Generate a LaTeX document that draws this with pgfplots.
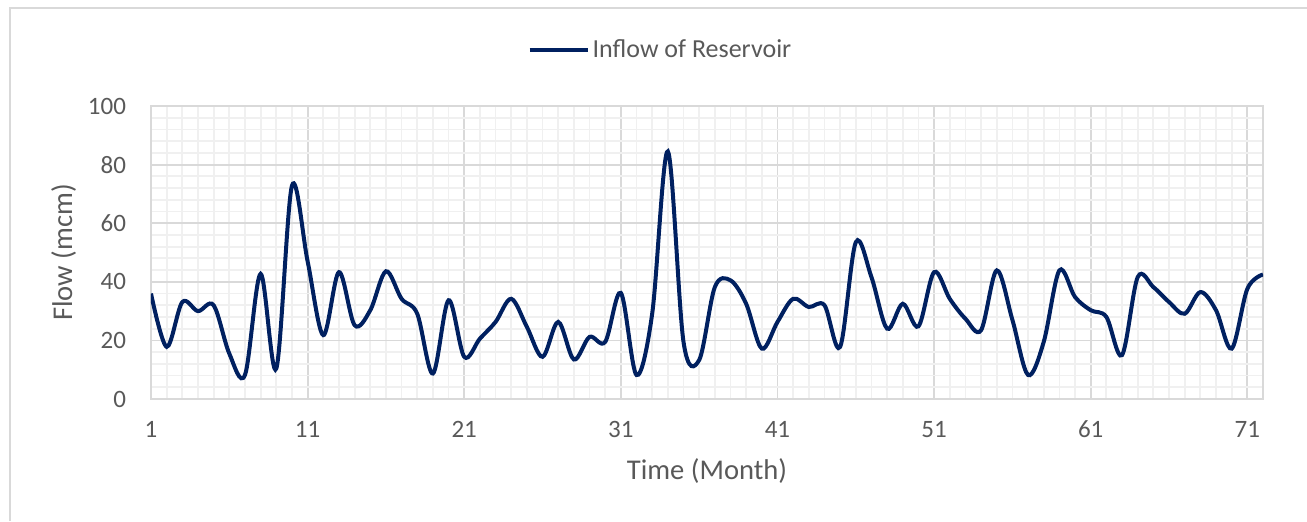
\documentclass[border=0pt]{standalone}
\usepackage{pgfplots}
\pgfplotsset{compat=1.18}
\usepackage{fontspec}
\setmainfont{Carlito}
\definecolor{navy}{HTML}{002060}
\definecolor{txt}{HTML}{595959}
\definecolor{majg}{HTML}{D9D9D9}
\definecolor{ming}{HTML}{F0F0F0}
\begin{document}
\begin{tikzpicture}
\useasboundingbox (0pt,0pt) rectangle (653.5pt,-260.5pt);
\draw[majg, line width=1pt] (4.75pt,-260.5pt) -- (4.75pt,-3.75pt) -- (653.5pt,-3.75pt);
\begin{axis}[
  at={(75.5pt,-199.5pt)}, anchor=south west,
  scale only axis, width=556pt, height=146.5pt,
  xmin=1, xmax=72, ymin=0, ymax=100,
  xtick={1,11,...,71}, minor xtick={1,...,72},
  ytick={0,20,...,100}, minor y tick num=4,
  grid=both,
  major grid style={majg, line width=0.9pt},
  minor grid style={ming, line width=0.9pt},
  axis line style={majg, line width=1pt},
  major tick length=0pt, minor tick length=0pt,
  tick label style={font=\fontsize{12.5}{14}\selectfont, text=txt},
  /pgf/number format/assume math mode=true,
  yticklabel style={xshift=-9pt},
  xticklabel style={yshift=-7.5pt},
  xlabel={Time (Month)}, ylabel={Flow (mcm)},
  label style={font=\fontsize{14.3}{16}\selectfont, text=txt},
  xlabel style={yshift=-3.5pt},
  ylabel style={yshift=-1pt},
  legend style={draw=none, fill=none, at={(0.4586,1.191)}, anchor=center,
    font=\fontsize{13}{15}\selectfont, text=txt, inner sep=0pt,
    nodes={inner xsep=1.5pt}},
  legend image code/.code={\draw[navy, line width=2pt] (0pt,0pt) -- (29pt,0pt);},
  legend cell align=left,
]
\addplot[navy, line width=2pt, smooth, tension=0.55] coordinates {
(1,36.0) (2,17.8) (3,33.1) (4,30.0) (5,32.0) (6,15.5) (7,8.2) (8,42.7) (9,10.4) (10,72.8)
(11,47.0) (12,21.8) (13,43.3) (14,25.2) (15,30.3) (16,43.6) (17,34.2) (18,29.1) (19,8.7) (20,33.7)
(21,14.4) (22,20.6) (23,26.3) (24,34.2) (25,24.6) (26,14.4) (27,26.3) (28,13.5) (29,21.2) (30,19.5)
(31,36.2) (32,8.2) (33,29.1) (34,84.5) (35,19.5) (36,13.3) (37,38.2) (38,40.5) (39,32.5) (40,17.2)
(41,26.3) (42,34.2) (43,31.4) (44,32.0) (45,17.8) (46,53.5) (47,41.6) (48,24.0) (49,32.5) (50,24.8)
(51,43.3) (52,34.2) (53,27.4) (54,23.5) (55,43.9) (56,27.0) (57,8.2) (58,19.5) (59,43.9) (60,34.8)
(61,30.3) (62,28.0) (63,15.0) (64,41.6) (65,38.2) (66,33.1) (67,29.1) (68,36.5) (69,30.3) (70,17.2)
(71,37.6) (72,42.5)
};
\addlegendentry{Inflow of Reservoir}
\end{axis}
\end{tikzpicture}
\end{document}
